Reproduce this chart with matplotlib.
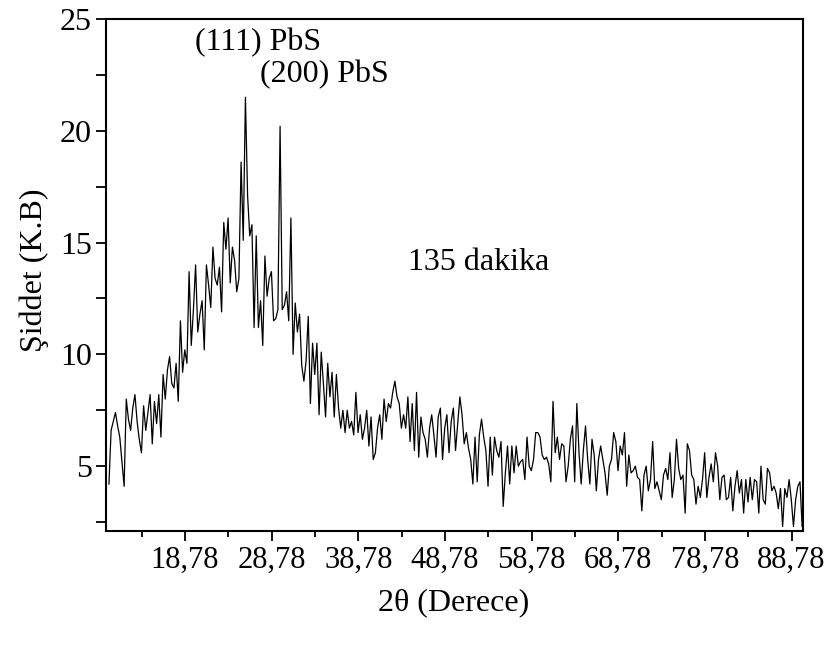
import matplotlib
matplotlib.use("Agg")
import matplotlib.pyplot as plt
import numpy as np

plt.rcParams['font.family'] = ['Liberation Serif', 'DejaVu Serif']

# 2theta grid: 10 -> 90 deg, 0.25 deg step
two_theta = np.arange(10.0, 90.001, 0.25)

intensity = [
    4.2, 6.6, 7.0, 7.4, 6.8, 6.3, 5.2, 4.1, 8.0, 7.1, 6.6, 7.6, 8.2, 7.0, 6.2, 5.6, 7.7, 6.6, 7.4, 8.2,
    6.0, 7.9, 6.9, 8.2, 6.3, 9.1, 8.0, 9.3, 9.9, 8.7, 8.5, 9.6, 7.9, 11.5, 9.2, 10.2, 9.6, 13.7, 10.4, 12.0,
    14.0, 11.0, 11.8, 12.4, 10.2, 14.0, 13.1, 12.1, 14.8, 13.4, 13.1, 13.9, 11.9, 15.9, 14.7, 16.1, 13.2, 14.8, 14.2, 12.8,
    13.4, 18.6, 15.1, 21.5, 17.1, 15.3, 15.8, 11.2, 15.3, 11.2, 12.4, 10.4, 14.4, 12.6, 13.4, 13.7, 11.5, 11.6, 12.0, 20.2,
    12.0, 12.2, 12.8, 11.5, 16.1, 10.0, 12.3, 11.0, 11.8, 9.5, 8.8, 9.7, 11.7, 7.8, 10.5, 9.1, 10.5, 7.3, 10.1, 8.7,
    7.2, 9.6, 8.1, 9.2, 7.2, 9.1, 7.6, 6.7, 7.5, 6.5, 7.5, 6.7, 7.0, 6.4, 8.3, 6.5, 7.3, 6.2, 6.7, 7.5,
    5.9, 7.2, 5.3, 5.6, 6.7, 7.3, 6.2, 8.0, 7.0, 7.8, 7.6, 8.3, 8.8, 8.1, 7.8, 6.7, 7.3, 6.7, 8.1, 6.1,
    7.8, 5.7, 8.3, 5.4, 7.2, 6.5, 6.2, 5.4, 6.7, 7.3, 6.4, 5.4, 7.2, 7.6, 5.3, 6.7, 7.3, 5.6, 7.0, 7.6,
    5.7, 6.9, 8.1, 7.3, 6.0, 6.5, 5.8, 5.3, 4.2, 6.3, 4.3, 6.4, 7.1, 6.3, 5.7, 4.1, 6.3, 4.6, 6.3, 5.7,
    5.4, 6.1, 3.2, 4.7, 5.9, 4.2, 5.9, 4.7, 5.9, 5.0, 5.2, 5.3, 4.4, 6.3, 5.0, 4.8, 5.3, 6.5, 6.5, 6.3,
    5.5, 5.3, 5.4, 5.1, 4.3, 7.9, 5.6, 6.3, 5.3, 6.0, 5.9, 4.3, 5.0, 6.2, 6.8, 4.3, 7.8, 5.6, 4.2, 5.7,
    6.8, 5.3, 4.2, 6.2, 5.5, 3.9, 5.3, 5.9, 5.3, 4.7, 3.7, 5.0, 5.3, 6.5, 6.1, 4.8, 5.9, 5.5, 6.5, 4.1,
    5.5, 4.7, 4.8, 5.0, 4.5, 4.4, 3.0, 4.6, 5.0, 3.9, 4.4, 6.1, 4.0, 4.3, 3.9, 3.5, 4.6, 4.9, 4.4, 5.6,
    3.6, 4.4, 6.2, 4.9, 4.4, 4.6, 2.9, 6.0, 5.7, 4.6, 4.4, 3.3, 4.1, 3.6, 4.4, 5.6, 3.6, 4.5, 5.1, 4.3,
    5.6, 5.0, 3.5, 4.5, 4.6, 3.5, 3.6, 4.5, 3.0, 4.1, 4.8, 3.8, 4.4, 2.9, 4.4, 3.4, 4.5, 3.5, 4.4, 4.3,
    2.9, 5.0, 3.5, 3.3, 4.9, 4.7, 3.9, 4.1, 3.8, 3.1, 4.0, 2.3, 4.0, 3.6, 4.4, 3.5, 2.3, 3.5, 4.1, 4.3,
    2.3,
]

xticks = [18.78, 28.78, 38.78, 48.78, 58.78, 68.78, 78.78, 88.78]
xtick_labels = ["18,78", "28,78", "38,78", "48,78", "58,78", "68,78", "78,78", "88,78"]
xminor = [13.78, 23.78, 33.78, 43.78, 53.78, 63.78, 73.78, 83.78]
yticks = [5, 10, 15, 20, 25]
yminor = [2.5, 7.5, 12.5, 17.5, 22.5]

fig = plt.figure(figsize=(8.32, 6.46), dpi=100)
ax = fig.add_axes([106 / 832, 1 - 531 / 646, 697 / 832, 512 / 646])

ax.plot(two_theta, intensity, color='black', lw=0.9)

ax.set_xlim(9.66, 90.1)
ax.set_ylim(2.1, 25)

ax.set_xticks(xticks)
ax.set_xticklabels(xtick_labels)
ax.set_xticks(xminor, minor=True)
ax.set_yticks(yticks)
ax.set_yticks(yminor, minor=True)

for s in ax.spines.values():
    s.set_linewidth(1.5)

ax.tick_params(axis='x', which='major', direction='out', length=7, width=1.3, labelsize=22, pad=4)
ax.tick_params(axis='x', which='minor', direction='out', length=4, width=1.3)
ax.tick_params(axis='y', which='both', direction='out', length=7, width=1.3, labelsize=23, pad=3)

# peak labels and sample time
ax.text(19.9, 23.95, "(111) PbS", fontsize=23, ha='left', va='center')
ax.text(27.4, 22.5, "(200) PbS", fontsize=23, ha='left', va='center')
ax.text(44.5, 14.1, "135 dakika", fontsize=23, ha='left', va='center')

fig.text(454 / 832, 1 - 603 / 646, "2θ (Derece)", fontsize=23, ha='center', va='center')
fig.text(34 / 832, 1 - 270 / 646, "Şiddet (K.B)", fontsize=23, ha='center', va='center', rotation=90)

fig.savefig("out.png", dpi=100)
